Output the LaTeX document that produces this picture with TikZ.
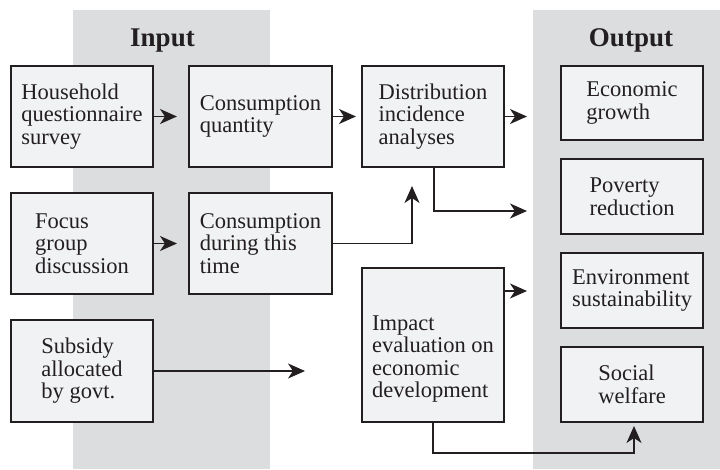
\documentclass[tikz,border=0pt]{standalone}
\usepackage{fontspec}
\setmainfont{Liberation Serif}
\usetikzlibrary{arrows.meta}
\definecolor{band}{HTML}{DCDDDF}
\definecolor{boxfill}{HTML}{F1F2F4}
\definecolor{ink}{HTML}{231F20}
\begin{document}
\begin{tikzpicture}[x=1pt,y=-1pt,
  box/.style={draw=ink,line width=1.6pt,fill=boxfill,minimum width=142pt,inner sep=0pt,align=left,
    font=\fontsize{22.5}{22.5}\selectfont,text=ink},
  plain/.style={inner sep=0pt,align=left,font=\fontsize{22.5}{22.5}\selectfont,text=ink},
  title/.style={inner sep=0pt,anchor=base,font=\fontsize{27}{30}\selectfont\bfseries,text=ink},
  arr/.style={draw=ink,line width=1.5pt,-{Stealth[length=17pt,width=15pt,inset=5pt]}}]
\useasboundingbox (0,0) rectangle (720,469);
\fill[band] (73,10) rectangle (270,469);
\fill[band] (533,10) rectangle (720,469);
\node[title] (tin) at (162.5,46.7) {Input};
\node[title] (tout) at (631,46.7) {Output};
% input column
\node[box,minimum height=101pt] (hh) at (82,116.5) {Household\\questionnaire\\survey};
\node[box,minimum height=101pt] (fg) at (82,243.5) {Focus\\group\\discussion};
\node[box,minimum height=102pt] (sb) at (82,371) {Subsidy\\allocated\\by govt.};
% middle
\node[box,minimum width=143pt,minimum height=101pt] (cq) at (260.5,116.5) {Consumption\\quantity};
\node[box,minimum width=143pt,minimum height=101pt] (cd) at (260.5,243.5) {Consumption\\during this\\time};
\node[box,minimum height=101pt] (di) at (433,116.5) {Distribution\\incidence\\analyses};
\node[box,minimum height=154pt] (im) at (433,345) {};
\node[plain] (imt) at (433,359) {Impact\\evaluation on\\economic\\development};
% output column
\node[box,minimum height=74pt] (eg) at (632,103) {Economic\\growth};
\node[box,minimum height=75pt] (pr) at (632,196.5) {Poverty\\reduction};
\node[box,minimum height=75pt] (es) at (632,290.5) {Environment\\sustainability};
\node[box,minimum height=75pt] (sw) at (632,384.5) {Social\\welfare};
% connector ends
\coordinate (e1) at (177,116.5);
\coordinate (e2) at (356,116.5);
\coordinate (e3) at (177,243.5);
\coordinate (c4) at (412,243.5);
\coordinate (e4) at (412,186);
\coordinate (e5) at (527,116.5);
\coordinate (c6a) at (434,211);
\coordinate (e6) at (527,211);
\coordinate (e7) at (305,371);
\coordinate (s8) at (504,291);
\coordinate (e8) at (527,291);
\coordinate (c9a) at (433,453);
\coordinate (c9b) at (634,453);
\coordinate (e9) at (634,426);
% connectors
\draw[arr] (hh.east) -- (e1);
\draw[arr] (cq.east) -- (e2);
\draw[arr] (fg.east) -- (e3);
\draw[arr] (cd.east) -- (c4) -- (e4);
\draw[arr] (di.east) -- (e5);
\draw[arr] (di.south -| c6a) -- (c6a) -- (e6);
\draw[arr] (sb.east) -- (e7);
\draw[arr] (s8) -- (e8);
\draw[arr] (im.south) -- (c9a) -- (c9b) -- (e9);
\end{tikzpicture}
\end{document}
